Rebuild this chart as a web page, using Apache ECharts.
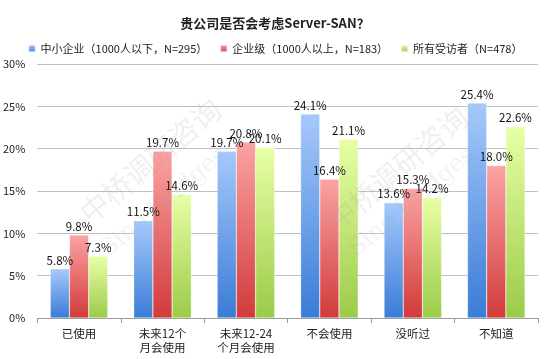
<!DOCTYPE html>
<html><head><meta charset="utf-8">
<script src="https://cdn.jsdelivr.net/npm/echarts@6/dist/echarts.min.js"></script>
<style>html,body{margin:0;padding:0;background:#fff}#c{width:550px;height:359px}</style>
</head><body><div id="c"></div>
<script>
const categories = ['已使用', '未来12个\n月会使用', '未来12-24\n个月会使用', '不会使用', '没听过', '不知道'];
const smb = [5.8, 11.5, 19.7, 24.1, 13.6, 25.4];
const ent = [9.8, 19.7, 20.8, 16.4, 15.3, 18.0];
const all = [7.3, 14.6, 20.1, 21.1, 14.2, 22.6];
const seriesNames = ['中小企业（1000人以下，N=295）', '企业级（1000人以上，N=183）', '所有受访者（N=478）'];
const yTicks = [0, 5, 10, 15, 20, 25, 30];

const font = '"Noto Sans CJK SC", "Noto Sans", sans-serif';
function grad(top, bottom) {
  return new echarts.graphic.LinearGradient(0, 0, 0, 1, [{offset: 0, color: top}, {offset: 1, color: bottom}]);
}
const styles = [
  {top: '#a6c9fb', bottom: '#3a7cd6', legend: '#4a8be0'},
  {top: '#fba3a3', bottom: '#d23a3a', legend: '#e05555'},
  {top: '#e8ffa6', bottom: '#9bcb48', legend: '#b0dc66'}
];
const data = [smb, ent, all];
const wm = (x, y, text, font, fill) => ({type: 'text', x: x, y: y, rotation: 0.7, z: 100, silent: true,
  style: {text: text, font: font, fill: fill, textAlign: 'left', textVerticalAlign: 'bottom'}});
const chart = echarts.init(document.getElementById('c'));
chart.setOption({
  animation: false,
  title: {text: '贵公司是否会考虑Server-SAN？', left: 'center', top: 12,
    textStyle: {fontFamily: font, fontSize: 13, fontWeight: 'bold', color: '#222'}},
  legend: {top: 38, left: 'center', itemWidth: 7, itemHeight: 7, itemGap: 12, icon: 'rect',
    textStyle: {fontFamily: font, fontSize: 11, color: '#222'}},
  grid: {left: 37, right: 12, top: 64, bottom: 41},
  xAxis: {type: 'category', data: categories,
    axisLine: {lineStyle: {color: '#999'}},
    axisTick: {show: true, length: 5, lineStyle: {color: '#999'}},
    axisLabel: {fontFamily: font, fontSize: 11.5, color: '#222', lineHeight: 14, margin: 9}},
  yAxis: {type: 'value', min: 0, max: 30, interval: 5,
    axisLabel: {formatter: v => yTicks.includes(v) ? v + '%' : '', fontFamily: font, fontSize: 11, color: '#222', margin: 12},
    splitLine: {lineStyle: {color: '#c0c0c0'}},
    axisLine: {show: false}, axisTick: {show: false}},
  series: data.map((d, i) => ({
    name: seriesNames[i], type: 'bar', data: d,
    barGap: '0%', barCategoryGap: '31%',
    color: styles[i].legend,
    itemStyle: {color: grad(styles[i].top, styles[i].bottom), borderColor: 'rgba(255,255,255,0.6)', borderWidth: 0.5},
    label: {show: true, position: 'top', distance: 3, formatter: p => p.value.toFixed(1) + '%',
      fontFamily: font, fontSize: 11.5, color: '#111'}
  })),
  graphic: [
    wm(93, 228, '中桥调研咨询', '29px "Noto Sans CJK SC"', 'rgba(160,160,160,0.17)'),
    wm(112, 262, 'Sino-Bridges', '24px "DejaVu Serif"', 'rgba(160,160,160,0.14)'),
    wm(340, 236, '中桥调研咨询', '29px "Noto Sans CJK SC"', 'rgba(160,160,160,0.17)'),
    wm(360, 262, 'Sino-Bridges', '24px "DejaVu Serif"', 'rgba(160,160,160,0.14)')
  ]
});
</script></body></html>
